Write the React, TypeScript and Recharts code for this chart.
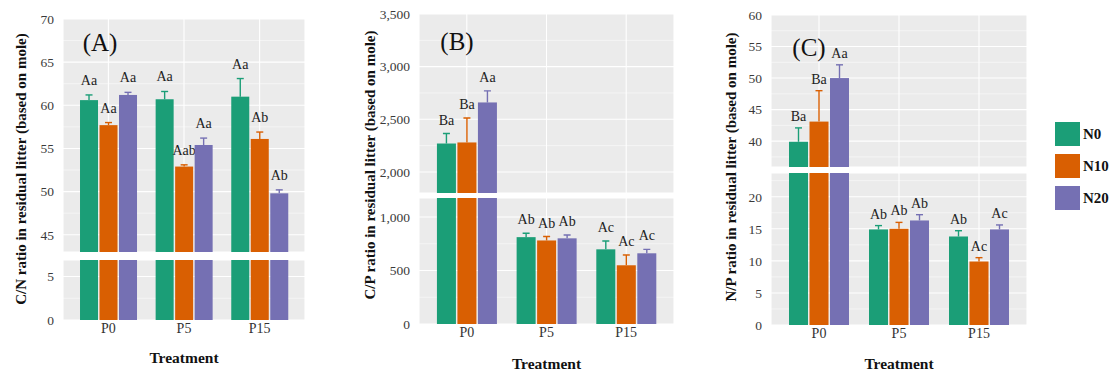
import React from 'react';
import { BarChart, Bar, XAxis, YAxis, CartesianGrid } from 'recharts';

// Treatments on the x axis and nitrogen levels as series
const categories = ['P0', 'P5', 'P15'];
const seriesNames = ['N0', 'N10', 'N20'];
const seriesColors = ['#1B9E77', '#D95F02', '#7570B3'];

// (A) C/N ratio: means, standard errors and significance letters
const cnN0 = [60.6, 60.7, 61.0];
const cnN0Err = [0.6, 0.9, 2.1];
const cnN0Lab = ['Aa', 'Aa', 'Aa'];
const cnN10 = [57.7, 52.9, 56.1];
const cnN10Err = [0.3, 0.2, 0.8];
const cnN10Lab = ['Aa', 'Aab', 'Ab'];
const cnN20 = [61.2, 55.4, 49.8];
const cnN20Err = [0.3, 0.8, 0.4];
const cnN20Lab = ['Aa', 'Aa', 'Ab'];

// (B) C/P ratio
const cpN0 = [2270, 812, 698];
const cpN0Err = [95, 36, 78];
const cpN0Lab = ['Ba', 'Ab', 'Ac'];
const cpN10 = [2280, 781, 549];
const cpN10Err = [232, 37, 96];
const cpN10Lab = ['Ba', 'Ab', 'Ac'];
const cpN20 = [2660, 801, 661];
const cpN20Err = [110, 31, 37];
const cpN20Lab = ['Aa', 'Ab', 'Ac'];

// (C) N/P ratio
const npN0 = [39.9, 14.9, 13.8];
const npN0Err = [2.2, 0.6, 0.9];
const npN0Lab = ['Ba', 'Ab', 'Ab'];
const npN10 = [43.1, 15.0, 9.9];
const npN10Err = [4.9, 1.0, 0.6];
const npN10Lab = ['Ba', 'Ab', 'Ac'];
const npN20 = [50.0, 16.3, 14.9];
const npN20Err = [2.1, 0.9, 0.7];
const npN20Lab = ['Aa', 'Ab', 'Ac'];

// Axis ticks for the two halves of each broken axis
const cnUpperTicks = [45, 50, 55, 60, 65, 70];
const cnLowerTicks = [0, 5];
const cpUpperTicks = [2000, 2500, 3000, 3500];
const cpLowerTicks = [0, 500, 1000];
const npUpperTicks = [40, 45, 50, 55, 60];
const npLowerTicks = [0, 5, 10, 15, 20];

const FONT = "'Liberation Serif', 'Times New Roman', serif";

type Row = Record<string, string | number>;

function buildRows(vals: number[][], errs: number[][], labs: string[][]): Row[] {
  return categories.map((cat, c) => {
    const row: Row = { cat };
    for (let i = 0; i < 3; i++) {
      row[`v${i}`] = vals[i][c];
      row[`e${i}`] = errs[i][c];
      row[`l${i}`] = labs[i][c];
    }
    return row;
  });
}

const cnRows = buildRows([cnN0, cnN10, cnN20], [cnN0Err, cnN10Err, cnN20Err], [cnN0Lab, cnN10Lab, cnN20Lab]);
const cpRows = buildRows([cpN0, cpN10, cpN20], [cpN0Err, cpN10Err, cpN20Err], [cpN0Lab, cpN10Lab, cpN20Lab]);
const npRows = buildRows([npN0, npN10, npN20], [npN0Err, npN10Err, npN20Err], [npN0Lab, npN10Lab, npN20Lab]);

// Bar with an upper whisker and its letter label; the bar is cut at the
// top of its half of the broken axis.
const makeShape = (lo: number, hi: number, i: number, labelGap: number) => (props: any) => {
  const { x, y, width, height, payload } = props;
  const v = Number(payload[`v${i}`]);
  const e = Number(payload[`e${i}`]);
  const lab = String(payload[`l${i}`]);
  if (!(v > lo) || !height || height <= 0) return <g />;
  const ppu = height / (v - lo);
  const base = y + height;
  const plotTop = base - (hi - lo) * ppu;
  const top = Math.max(y, plotTop);
  const cx = x + width / 2;
  const color = seriesColors[i];
  const inside = v <= hi;
  const errY = base - (v + e - lo) * ppu;
  return (
    <g>
      <rect x={x} y={top} width={width} height={base - top} fill={color} />
      {inside && (
        <g>
          <line x1={cx} x2={cx} y1={y} y2={errY} stroke={color} strokeWidth={1.4} />
          <line x1={cx - 3.5} x2={cx + 3.5} y1={errY} y2={errY} stroke={color} strokeWidth={1.4} />
          <text
            x={cx}
            y={errY - labelGap}
            textAnchor="middle"
            fontFamily={FONT}
            fontSize={14}
            fill="#222"
          >
            {lab}
          </text>
        </g>
      )}
    </g>
  );
};

const minorValues = (ticks: number[], lo: number, hi: number) => {
  const step = ticks[1] - ticks[0];
  const out: number[] = [];
  for (let t = ticks[0] - step / 2; t <= hi; t += step) {
    if (t >= lo) out.push(t);
  }
  return out;
};

type HalfProps = {
  rows: Row[];
  left: number;
  right: number;
  top: number;
  bottom: number;
  domain: [number, number];
  ticks: number[];
  showX: boolean;
  fmt?: (v: number) => string;
  labelGap: number;
};

function Half({ rows, left, right, top, bottom, domain, ticks, showX, fmt, labelGap }: HalfProps) {
  const yAxisW = 60;
  const mTop = showX ? 0 : 12;
  const xH = showX ? 40 : 0;
  const w = right - left + yAxisW;
  const h = bottom - top + mTop + xH;
  const pad = (right - left) / 32;
  return (
    <div
      style={{
        position: 'absolute',
        left: left - yAxisW,
        top: top - mTop,
        width: w,
        height: h,
        overflow: 'hidden',
      }}
    >
      <BarChart
        width={w}
        height={h}
        data={rows}
        margin={{ top: mTop, right: 0, bottom: 0, left: 0 }}
        barCategoryGap="12.5%"
        barGap={1.5}
      >
        <CartesianGrid fill="#EBEBEB" stroke="#FFFFFF" strokeWidth={1.1} />
        <CartesianGrid
          vertical={false}
          horizontalValues={minorValues(ticks, domain[0], domain[1])}
          stroke="#FFFFFF"
          strokeWidth={0.5}
        />
        <XAxis
          dataKey="cat"
          hide={!showX}
          height={xH}
          padding={{ left: pad, right: pad }}
          axisLine={false}
          tickLine={false}
          tickSize={0}
          tickMargin={3}
          tick={{ fill: '#333', fontSize: 14, fontFamily: FONT }}
        />
        <YAxis
          type="number"
          width={yAxisW}
          domain={domain}
          ticks={ticks}
          allowDataOverflow
          axisLine={false}
          tickLine={false}
          tickSize={0}
          tickMargin={9}
          tickFormatter={fmt}
          tick={{ fill: '#3a3a3a', fontSize: 13.5, fontFamily: FONT }}
        />
        {[0, 1, 2].map((i) => (
          <Bar
            key={i}
            dataKey={`v${i}`}
            name={seriesNames[i]}
            fill={seriesColors[i]}
            isAnimationActive={false}
            shape={makeShape(domain[0], domain[1], i, labelGap)}
          />
        ))}
      </BarChart>
    </div>
  );
}

type PanelProps = {
  rows: Row[];
  tag: string;
  tagX: number;
  tagY: number;
  title: string;
  titleX: number;
  titleY: number;
  left: number;
  right: number;
  upper: { top: number; bottom: number; domain: [number, number]; ticks: number[] };
  lower: { top: number; bottom: number; domain: [number, number]; ticks: number[] };
  xTitleY: number;
  fmt?: (v: number) => string;
  labelGap: number;
};

function Panel(p: PanelProps) {
  return (
    <>
      <Half
        rows={p.rows}
        left={p.left}
        right={p.right}
        top={p.upper.top}
        bottom={p.upper.bottom}
        domain={p.upper.domain}
        ticks={p.upper.ticks}
        showX={false}
        fmt={p.fmt}
        labelGap={p.labelGap}
      />
      <Half
        rows={p.rows}
        left={p.left}
        right={p.right}
        top={p.lower.top}
        bottom={p.lower.bottom}
        domain={p.lower.domain}
        ticks={p.lower.ticks}
        showX
        fmt={p.fmt}
        labelGap={p.labelGap}
      />
      <div
        style={{
          position: 'absolute',
          left: p.tagX,
          top: p.tagY,
          transform: 'translate(-50%, -50%)',
          fontFamily: FONT,
          fontSize: 25,
          color: '#111',
          whiteSpace: 'nowrap',
          lineHeight: 1,
        }}
      >
        {p.tag}
      </div>
      <div
        style={{
          position: 'absolute',
          left: p.titleX,
          top: p.titleY,
          transform: 'translate(-50%, -50%) rotate(-90deg)',
          fontFamily: FONT,
          fontSize: 15,
          fontWeight: 'bold',
          color: '#111',
          whiteSpace: 'nowrap',
          lineHeight: 1,
        }}
      >
        {p.title}
      </div>
      <div
        style={{
          position: 'absolute',
          left: (p.left + p.right) / 2,
          top: p.xTitleY,
          transform: 'translate(-50%, -50%)',
          fontFamily: FONT,
          fontSize: 15.5,
          fontWeight: 'bold',
          color: '#111',
          whiteSpace: 'nowrap',
          lineHeight: 1,
        }}
      >
        Treatment
      </div>
    </>
  );
}

const comma = (v: number) => v.toLocaleString('en-US');

export default function App() {
  return (
    <div
      style={{
        position: 'absolute',
        left: 0,
        top: 0,
        width: 1119,
        height: 378,
        background: '#FFFFFF',
        overflow: 'hidden',
      }}
    >
      <Panel
        rows={cnRows}
        tag="(A)"
        tagX={100}
        tagY={42}
        title="C/N ratio in residual litter (based on mole)"
        titleX={21}
        titleY={169}
        left={63}
        right={305}
        upper={{ top: 19, bottom: 252, domain: [43, 70], ticks: cnUpperTicks }}
        lower={{ top: 260, bottom: 320, domain: [0, 6.9], ticks: cnLowerTicks }}
        xTitleY={358}
        labelGap={10}
      />
      <Panel
        rows={cpRows}
        tag="(B)"
        tagX={457}
        tagY={41}
        title="C/P ratio in residual litter (based on mole)"
        titleX={370}
        titleY={165}
        left={419}
        right={674}
        upper={{ top: 14, bottom: 193, domain: [1800, 3500], ticks: cpUpperTicks }}
        lower={{ top: 198, bottom: 324, domain: [0, 1178], ticks: cpLowerTicks }}
        xTitleY={364}
        fmt={comma}
        labelGap={9}
      />
      <Panel
        rows={npRows}
        tag="(C)"
        tagX={809}
        tagY={47}
        title="N/P ratio in residual litter (based on mole)"
        titleX={731}
        titleY={167}
        left={771}
        right={1027}
        upper={{ top: 15, bottom: 167, domain: [35.9, 60], ticks: npUpperTicks }}
        lower={{ top: 173, bottom: 325, domain: [0, 23.7], ticks: npLowerTicks }}
        xTitleY={364}
        labelGap={7}
      />
      <div style={{ position: 'absolute', left: 1055, top: 118 }}>
        {seriesNames.map((n, i) => (
          <div key={n} style={{ display: 'flex', alignItems: 'center', height: 32 }}>
            <div style={{ width: 25, height: 24, background: seriesColors[i] }} />
            <span
              style={{
                marginLeft: 3,
                fontFamily: FONT,
                fontSize: 15,
                fontWeight: 'bold',
                color: '#111',
              }}
            >
              {n}
            </span>
          </div>
        ))}
      </div>
    </div>
  );
}
